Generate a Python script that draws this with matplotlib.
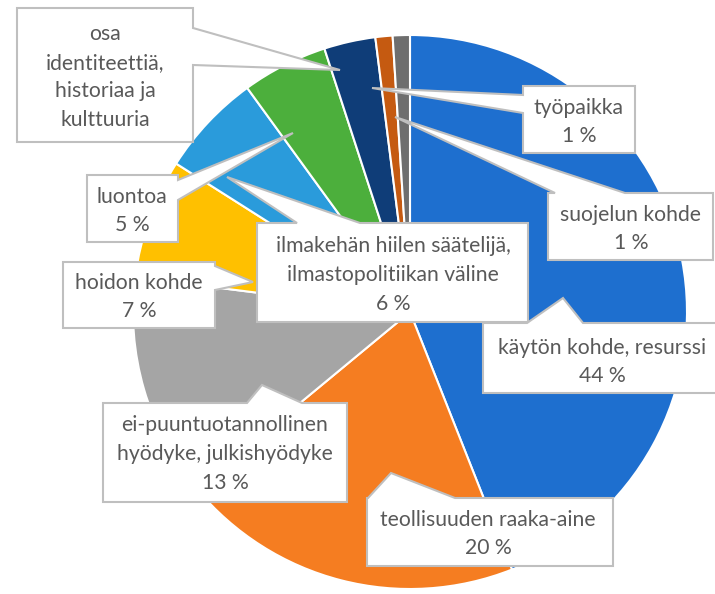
import matplotlib
matplotlib.use("Agg")
import matplotlib.pyplot as plt
from matplotlib.patches import Polygon

# Slices, clockwise from 12 o'clock
labels = ["käytön kohde, resurssi", "teollisuuden raaka-aine",
          "ei-puuntuotannollinen\nhyödyke, julkishyödyke", "hoidon kohde",
          "ilmakehän hiilen säätelijä,\nilmastopolitiikan väline", "luontoa",
          "osa\nidentiteettiä,\nhistoriaa ja\nkulttuuria", "työpaikka", "suojelun kohde"]
values = [44, 20, 13, 7, 6, 5, 3, 1, 1]
colors = ["#1E6FCF", "#F57D21", "#A5A5A5", "#FFC000", "#2A9BDB",
          "#4CAF3C", "#0F3D78", "#C55A11", "#6E6E6E"]
show_pct = [True, True, True, True, True, True, False, True, True]

# Callout layout in pixel coords (y down): box, side of pointer, pointer base, tip, text centre
callouts = [
    ((483, 323, 740, 393), "top", (527, 583), (563, 298), (602, 362)),
    ((367, 498, 613, 566), "top", (368, 455), (391, 473), (488, 534)),
    ((103, 403, 347, 502), "top", (247, 302), (262, 385), (225, 454)),
    ((63, 262, 215, 328), "right", (266, 290), (253, 282), (139, 297)),
    ((257, 223, 528, 322), "top", (297, 360), (227, 177), (393, 275)),
    ((87, 175, 178, 242), "right", (180, 200), (293, 133), (132, 211)),
    ((17, 8, 193, 142), "right", (28, 65), (340, 70), (105, 77)),
    ((523, 86, 635, 153), "left", (95, 113), (372, 88), (579, 122)),
    ((548, 193, 713, 260), "top", (555, 625), (395, 117), (631, 229)),
]

fig = plt.figure(figsize=(7.15, 5.94), dpi=100)
ax = fig.add_axes([0, 0, 1, 1])

# y axis is inverted below, so counterclock=True reads clockwise on screen
ax.pie(values, colors=colors, startangle=-90, counterclock=True,
       center=(410, 312), radius=277,
       wedgeprops=dict(edgecolor="white", linewidth=1.5))


def callout(box, side, base, tip):
    x0, y0, x1, y1 = box
    b1, b2 = base
    if side == "top":
        pts = [(x0, y0), (b1, y0), tip, (b2, y0), (x1, y0), (x1, y1), (x0, y1)]
    elif side == "right":
        pts = [(x0, y0), (x1, y0), (x1, b1), tip, (x1, b2), (x1, y1), (x0, y1)]
    else:
        pts = [(x0, y0), (x1, y0), (x1, y1), (x0, y1), (x0, b2), tip, (x0, b1)]
    ax.add_patch(Polygon(pts, closed=True, facecolor="white", edgecolor="#BFBFBF",
                         linewidth=1.5, joinstyle="miter", zorder=3))


for lab, v, pct, (box, side, base, tip, txt) in zip(labels, values, show_pct, callouts):
    callout(box, side, base, tip)
    s = lab + (f"\n{v} %" if pct else "")
    ax.text(txt[0], txt[1], s, ha="center", va="center", fontsize=15.2,
            family="Lato", color="#595959", linespacing=1.55, zorder=4)

ax.set_xlim(0, 715)
ax.set_ylim(594, 0)
ax.set_aspect("equal")
ax.axis("off")
fig.savefig("out.png", dpi=100, facecolor="white")
